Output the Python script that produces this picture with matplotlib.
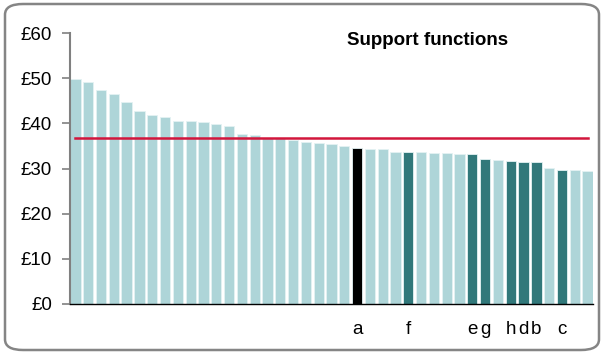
import matplotlib.pyplot as plt
from matplotlib.patches import FancyBboxPatch

plt.rcParams['font.family'] = ['Liberation Sans', 'DejaVu Sans']

# spend per head, sorted high to low
values = [49.8, 49.1, 47.3, 46.4, 44.8, 42.7, 41.8, 41.5, 40.5, 40.5,
          40.3, 39.8, 39.4, 37.6, 37.5, 36.8, 36.7, 36.3, 35.9, 35.7,
          35.5, 35.0, 34.5, 34.3, 34.3, 33.7, 33.7, 33.6, 33.5, 33.4,
          33.3, 33.3, 32.2, 31.9, 31.7, 31.5, 31.4, 30.1, 29.7, 29.6, 29.5]
# letter under highlighted bars, '' for the rest
labels = [''] * 22 + ['a', '', '', '', 'f', '', '', '', '', 'e', 'g',
                      '', 'h', 'd', 'b', '', 'c', '', '']
average = 36.7
yticks = [0, 10, 20, 30, 40, 50, 60]

light = '#aed5d8'
dark = '#31787a'
colors = []
for lab in labels:
    if lab == 'a':
        colors.append('black')
    elif lab:
        colors.append(dark)
    else:
        colors.append(light)

fig = plt.figure(figsize=(6.04, 3.54), dpi=100)
ax = fig.add_axes([70 / 604, 50 / 354, 523 / 604, 271 / 354])

x = range(len(values))
ax.bar(x, values, width=0.8, color=colors, edgecolor='#e4f2f3', linewidth=0.6)
ax.plot([0, len(values) - 1], [average, average], color='#d2163c', lw=1.8)

ax.set_ylim(0, 60)
ax.set_xlim(-0.42, len(values) - 0.58)
ax.set_yticks(yticks)
ax.set_yticklabels(['£%d' % t for t in yticks], fontsize=13.5)

pos = [i for i, lab in enumerate(labels) if lab]
ax.set_xticks(pos)
ax.set_xticklabels([labels[i] for i in pos], fontsize=13.5)
ax.tick_params(axis='x', length=0, pad=12)
ax.tick_params(axis='y', length=6, color='#808080', width=1.2, pad=7)

for s in ['top', 'right']:
    ax.spines[s].set_visible(False)
ax.spines['left'].set_color('#808080')
ax.spines['left'].set_linewidth(1.5)
ax.spines['bottom'].set_color('black')
ax.spines['bottom'].set_linewidth(1)

ax.text(0.684, 0.974, 'Support functions', transform=ax.transAxes,
        fontsize=13.5, fontweight='bold', ha='center', va='center')

frame = FancyBboxPatch((5 / 604, 4 / 354), 594 / 604, 346 / 354,
                       boxstyle='round,pad=0,rounding_size=0.03',
                       transform=fig.transFigure, fill=False,
                       edgecolor='#858585', linewidth=1.8)
fig.patches.append(frame)

fig.savefig('out.png', dpi=100)
